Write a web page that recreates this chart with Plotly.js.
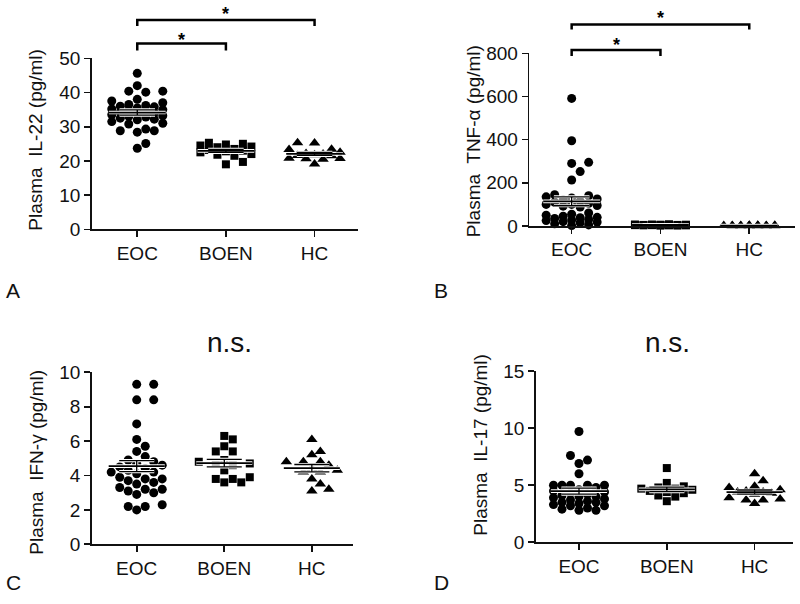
<!DOCTYPE html>
<html>
<head>
<meta charset="utf-8">
<script src="https://cdn.plot.ly/plotly-3.0.1.min.js"></script>
<style>html,body{margin:0;padding:0;background:#fff;}#chart{width:800px;height:604px;}</style>
</head>
<body>
<div id="chart"></div>
<script>
// ---------- DATA ----------
const cats = ['EOC', 'BOEN', 'HC'];

const il22_EOC  = [45.6, 42.0, 40.4, 40.1, 40.4, 38.0, 37.5, 37.0, 36.5, 36.0, 36.2, 35.8, 35.5, 35.0, 35.2, 34.8, 34.5, 34.2, 34.0, 33.8, 33.5, 33.2, 33.0, 32.8, 32.5, 32.2, 32.0, 31.5, 31.0, 30.8, 29.3, 28.8, 28.4, 28.8, 25.1, 23.7];
const il22_BOEN = [25.3, 25.0, 24.8, 24.5, 24.2, 24.0, 23.5, 23.2, 23.0, 22.8, 22.5, 22.0, 21.8, 21.5, 19.7, 19.0];
const il22_HC   = [25.3, 25.2, 23.4, 23.3, 22.5, 22.2, 22.0, 21.8, 21.6, 21.5, 20.7, 20.6, 20.5, 20.8, 19.1];

const tnf_EOC  = [591, 395, 290, 295, 252, 213, 145, 140, 135, 130, 125, 120, 115, 110, 105, 100, 100, 95, 92, 88, 60, 55, 50, 45, 40, 38, 35, 30, 28, 25, 20, 18, 15, 10, 5, 2];
const tnf_BOEN = [2, 3, 4, 5, 6, 7, 8, 3, 5, 4, 6, 2, 7, 5, 4, 3];
const tnf_HC   = [1, 2, 1, 3, 2, 1, 2, 3, 1, 2, 1, 2, 3, 1, 2];

const ifn_EOC  = [9.3, 9.3, 8.4, 8.4, 7.0, 6.1, 5.7, 5.4, 5.1, 4.9, 4.8, 4.7, 4.6, 4.5, 4.4, 4.3, 4.2, 4.2, 4.1, 3.9, 3.8, 3.8, 3.7, 3.6, 3.5, 3.3, 3.2, 3.2, 3.1, 3.0, 2.9, 2.3, 2.2, 2.2, 2.0];
const ifn_BOEN = [6.3, 6.1, 5.7, 5.4, 5.4, 4.9, 4.8, 4.7, 4.7, 4.6, 4.3, 3.9, 3.8, 3.8, 3.6, 3.6];
const ifn_HC   = [6.1, 5.4, 5.2, 4.8, 4.8, 4.8, 4.6, 4.4, 4.3, 4.2, 4.2, 3.8, 3.5, 3.2, 3.1];

const il17_EOC  = [9.7, 7.6, 7.2, 6.9, 6.0, 5.0, 5.0, 5.0, 5.0, 5.0, 4.8, 4.6, 4.5, 4.4, 4.3, 4.2, 4.1, 4.0, 4.0, 3.9, 3.8, 3.7, 3.6, 3.5, 3.5, 3.4, 3.3, 3.2, 3.2, 3.0, 2.9, 2.8, 2.8];
const il17_BOEN = [6.5, 5.2, 4.9, 4.8, 4.7, 4.7, 4.6, 4.5, 4.4, 4.3, 4.1, 4.0, 3.6];
const il17_HC   = [6.0, 5.4, 4.9, 4.8, 4.6, 4.5, 4.4, 4.4, 4.3, 4.2, 3.9, 3.8, 3.7, 3.7, 3.4];

const yTitles = ['Plasma  IL-22 (pg/ml)', 'Plasma  TNF-α (pg/ml)', 'Plasma  IFN-γ (pg/ml)', 'Plasma  IL-17 (pg/ml)'];
const panelLetters = ['A', 'B', 'C', 'D'];

// ---------- LAYOUT GEOMETRY ----------
const W = 800, H = 604;
const FONT = 'Liberation Sans, Arial, Helvetica, sans-serif';
const px = v => v / W;
const py = v => 1 - v / H;

const panels = [
  {groups: [il22_EOC, il22_BOEN, il22_HC], xpx: [91.7, 358], xr: [-0.514, 2.49], ypx: [229.3, 58.3], yr: [0, 50], dtick: 10},
  {groups: [tnf_EOC, tnf_BOEN, tnf_HC],   xpx: [529.3, 795], xr: [-0.477, 2.515], ypx: [226, 53.3], yr: [0, 800], dtick: 200},
  {groups: [ifn_EOC, ifn_BOEN, ifn_HC],   xpx: [91.7, 353], xr: [-0.514, 2.47], ypx: [544.3, 372.3], yr: [0, 10], dtick: 2},
  {groups: [il17_EOC, il17_BOEN, il17_HC], xpx: [535.7, 793], xr: [-0.493, 2.437], ypx: [542.3, 371], yr: [0, 15], dtick: 5}
];

const symbols = ['circle', 'square', 'triangle-up'];
const msizes = [9, 8, 10];

// beeswarm: offsets computed from the values and the axis scale
function swarm(vals, pxPerX, pxPerY, d, step, maxHalf) {
  const idx = vals.map((v, i) => i).sort((a, b) => vals[a] - vals[b]);
  const placed = [];
  const off = new Array(vals.length);
  const nMax = Math.floor(maxHalf / step);
  const cands = [0];
  for (let k = 1; k <= nMax; k++) { cands.push(k * step, -k * step); }
  for (const i of idx) {
    const yy = vals[i] * pxPerY;
    let best = 0, bestScore = -1;
    for (const cx of cands) {
      let minD = Infinity;
      for (const p of placed) {
        const dd = Math.hypot(p[0] - cx, p[1] - yy);
        if (dd < minD) minD = dd;
      }
      if (minD >= d) { best = cx; break; }
      if (minD > bestScore) { bestScore = minD; best = cx; }
    }
    placed.push([best, yy]);
    off[i] = best / pxPerX;
  }
  return off;
}

const mean = a => a.reduce((s, v) => s + v, 0) / a.length;
const sem = a => {
  const m = mean(a);
  const sd = Math.sqrt(a.reduce((s, v) => s + (v - m) * (v - m), 0) / (a.length - 1));
  return sd / Math.sqrt(a.length);
};

const traces = [];
const layout = {
  width: W, height: H,
  margin: {l: 0, r: 0, t: 0, b: 0},
  paper_bgcolor: '#fff', plot_bgcolor: 'rgba(0,0,0,0)',
  showlegend: false,
  font: {family: FONT, color: '#111'},
  shapes: [], annotations: []
};

panels.forEach((p, pi) => {
  const sfx = pi === 0 ? '' : String(pi + 1);
  const xa = 'x' + sfx, ya = 'y' + sfx;
  const pxPerX = (p.xpx[1] - p.xpx[0]) / (p.xr[1] - p.xr[0]);
  const pxPerY = (p.ypx[0] - p.ypx[1]) / (p.yr[1] - p.yr[0]);

  layout['xaxis' + sfx] = {
    domain: [px(p.xpx[0]), px(p.xpx[1])], range: p.xr, anchor: ya,
    showline: true, linecolor: '#111', linewidth: 1.6,
    ticks: 'outside', ticklen: 6, tickwidth: 1.6, tickcolor: '#111',
    tickvals: [0, 1, 2], ticktext: cats,
    tickfont: {family: FONT, size: 19, color: '#111'},
    showgrid: false, zeroline: false, fixedrange: true
  };
  layout['yaxis' + sfx] = {
    domain: [py(p.ypx[0]), py(p.ypx[1])], range: p.yr, anchor: xa,
    showline: true, linecolor: '#111', linewidth: 1.6,
    ticks: 'outside', ticklen: 6, tickwidth: 1.6, tickcolor: '#111',
    dtick: p.dtick, tick0: 0,
    tickfont: {family: FONT, size: 19, color: '#111'},
    showgrid: false, zeroline: false, fixedrange: true
  };

  // points
  p.groups.forEach((g, gi) => {
    const off = swarm(g, pxPerX, pxPerY, 9, 8.5, 28);
    traces.push({
      type: 'scatter', mode: 'markers', xaxis: xa, yaxis: ya,
      x: g.map((v, i) => gi + off[i]), y: g,
      marker: {symbol: symbols[gi], size: msizes[gi], color: '#000', line: {width: 0}},
      cliponaxis: false, hoverinfo: 'skip'
    });
  });

  // mean line and SEM bars
  const mx = [], my = [], ex = [], ey = [];
  p.groups.forEach((g, gi) => {
    const m = mean(g), s = sem(g);
    mx.push(gi - 0.32, gi + 0.32, null);
    my.push(m, m, null);
    ex.push(gi, gi, null, gi - 0.2, gi + 0.2, null, gi - 0.2, gi + 0.2, null);
    ey.push(m - s, m + s, null, m + s, m + s, null, m - s, m - s, null);
  });
  traces.push({type: 'scatter', mode: 'lines', xaxis: xa, yaxis: ya, x: ex, y: ey,
    line: {color: '#fff', width: 3.2}, cliponaxis: false, hoverinfo: 'skip'});
  traces.push({type: 'scatter', mode: 'lines', xaxis: xa, yaxis: ya, x: mx, y: my,
    line: {color: '#fff', width: 3.6}, cliponaxis: false, hoverinfo: 'skip'});
  traces.push({type: 'scatter', mode: 'lines', xaxis: xa, yaxis: ya, x: ex, y: ey,
    line: {color: '#000', width: 1.3}, cliponaxis: false, hoverinfo: 'skip'});
  traces.push({type: 'scatter', mode: 'lines', xaxis: xa, yaxis: ya, x: mx, y: my,
    line: {color: '#000', width: 1.8}, cliponaxis: false, hoverinfo: 'skip'});

  // y axis title
  layout.annotations.push({
    xref: 'paper', yref: 'paper', x: px(p.xpx[0] - 56), y: py([140, 141, 462, 445][pi]),
    text: yTitles[pi], textangle: -90, showarrow: false,
    font: {family: FONT, size: 19, color: '#111'}, xanchor: 'center', yanchor: 'middle'
  });
});

// significance brackets (panels A and B)
const brackets = [
  {xa: 'x',  yTop: 20, drop: 6, from: 0, to: 2, star: 10},
  {xa: 'x',  yTop: 43.5, drop: 7, from: 0, to: 1, star: 36},
  {xa: 'x2', yTop: 24.5, drop: 5, from: 0, to: 2, star: 14},
  {xa: 'x2', yTop: 50, drop: 6, from: 0, to: 1, star: 41}
];
brackets.forEach(b => {
  layout.shapes.push({
    type: 'path', xref: b.xa, yref: 'paper',
    path: `M ${b.from},${py(b.yTop + b.drop)} L ${b.from},${py(b.yTop)} L ${b.to},${py(b.yTop)} L ${b.to},${py(b.yTop + b.drop)}`,
    line: {color: '#000', width: 2.5}
  });
  layout.annotations.push({
    xref: b.xa, yref: 'paper', x: (b.from + b.to) / 2, y: py(b.star + 4),
    text: '<b>*</b>', showarrow: false, yanchor: 'middle', xanchor: 'center',
    font: {family: FONT, size: 18, color: '#000'}
  });
});

// n.s. labels
[[230, 342], [667, 342]].forEach(c => {
  layout.annotations.push({
    xref: 'paper', yref: 'paper', x: px(c[0]), y: py(c[1]), text: 'n.s.',
    showarrow: false, xanchor: 'center', yanchor: 'middle',
    font: {family: FONT, size: 28, color: '#111'}
  });
});

// panel letters
[[13, 290], [441, 290], [13, 582], [441, 582]].forEach((c, i) => {
  layout.annotations.push({
    xref: 'paper', yref: 'paper', x: px(c[0]), y: py(c[1]), text: panelLetters[i],
    showarrow: false, xanchor: 'center', yanchor: 'middle',
    font: {family: FONT, size: 21, color: '#111'}
  });
});

Plotly.newPlot('chart', traces, layout, {staticPlot: true, displayModeBar: false});
</script>
</body>
</html>
